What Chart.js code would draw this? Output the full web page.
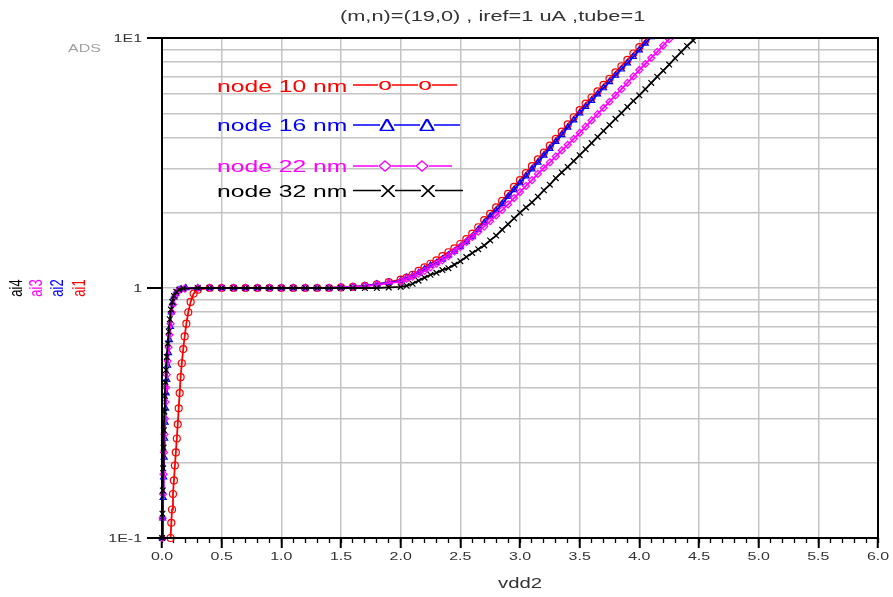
<!DOCTYPE html>
<html>
<head>
<meta charset="utf-8">
<script src="https://cdn.jsdelivr.net/npm/chart.js@4.4.1/dist/chart.umd.min.js"></script>
<style>
  html, body { margin: 0; padding: 0; background: #fff; }
  #wrap { width: 893px; height: 597px; }
</style>
</head>
<body>
<div id="wrap"><canvas id="chart" width="893" height="597"></canvas></div>
<script>
const titleText = "(m,n)=(19,0) , iref=1 uA ,tube=1";
const xTitle = "vdd2";
const yTitles = ["ai4", "ai3", "ai2", "ai1"];
const seriesLabels = ["node 10 nm", "node 16 nm", "node 22 nm", "node 32 nm"];

const xTickValues = [0, 0.5, 1, 1.5, 2, 2.5, 3, 3.5, 4, 4.5, 5, 5.5, 6];
const xTickLabels = ["0.0", "0.5", "1.0", "1.5", "2.0", "2.5", "3.0", "3.5", "4.0", "4.5", "5.0", "5.5", "6.0"];
const yTickValues = [0.1, 1, 10];
const yTickLabels = ["1E-1", "1", "1E1"];
const yGridValues = [0.1, 0.2, 0.3, 0.4, 0.5, 0.6, 0.7, 0.8, 0.9, 1, 2, 3, 4, 5, 6, 7, 8, 9, 10];

// steep start (each curve has its own sweep points)
const xSteepRed = [0.072, 0.078, 0.084, 0.092, 0.1, 0.108, 0.116, 0.124, 0.132, 0.14, 0.148, 0.156, 0.166, 0.178, 0.19, 0.204, 0.22, 0.24, 0.265];
const ySteepRed = [0.1, 0.115, 0.13, 0.15, 0.17, 0.195, 0.22, 0.25, 0.285, 0.33, 0.38, 0.44, 0.5, 0.57, 0.64, 0.72, 0.8, 0.88, 0.95];
const xSteepBlue = [0.002, 0.006, 0.01, 0.014, 0.018, 0.022, 0.026, 0.03, 0.035, 0.04, 0.047, 0.054, 0.062, 0.07, 0.078, 0.088, 0.1, 0.115, 0.135, 0.16, 0.2];
const ySteepBlue = [0.1, 0.12, 0.145, 0.175, 0.21, 0.25, 0.29, 0.33, 0.38, 0.43, 0.49, 0.55, 0.62, 0.7, 0.8, 0.87, 0.92, 0.95, 0.98, 0.99, 1.0];
const xSteepMag = [0.002, 0.005, 0.009, 0.013, 0.017, 0.021, 0.025, 0.029, 0.034, 0.04, 0.047, 0.055, 0.063, 0.072, 0.081, 0.092, 0.105, 0.125, 0.15, 0.19];
const ySteepMag = [0.1, 0.12, 0.15, 0.18, 0.22, 0.26, 0.3, 0.35, 0.4, 0.45, 0.51, 0.58, 0.65, 0.72, 0.8, 0.86, 0.92, 0.96, 0.985, 0.995];
const xSteepBlack = [0.001, 0.004, 0.007, 0.01, 0.013, 0.016, 0.02, 0.024, 0.028, 0.033, 0.04, 0.048, 0.056, 0.065, 0.075, 0.086, 0.1, 0.12, 0.145, 0.18];
const ySteepBlack = [0.1, 0.125, 0.155, 0.19, 0.23, 0.27, 0.32, 0.37, 0.42, 0.47, 0.53, 0.6, 0.67, 0.75, 0.82, 0.88, 0.93, 0.965, 0.985, 0.995];

// plateau
const xFlat = [0.3, 0.4, 0.5, 0.6, 0.7, 0.8, 0.9, 1.0, 1.1, 1.2, 1.3, 1.4, 1.5, 1.6, 1.7, 1.8, 1.9];
const yFlatRed = [0.985, 1, 1, 1, 1, 1, 1, 1, 1, 1, 1, 1, 1.005, 1.01, 1.02, 1.035, 1.055];
const yFlatBlue = [1, 1, 1, 1, 1, 1, 1, 1, 1, 1, 1, 1, 1.005, 1.01, 1.02, 1.035, 1.05];
const yFlatMag = [1, 1, 1, 1, 1, 1, 1, 1, 1, 1, 1, 1, 1.005, 1.01, 1.018, 1.03, 1.045];
const yFlatBlack = [1, 1, 1, 1, 1, 1, 1, 1, 1, 1, 1, 1, 1, 1, 1, 1, 1.005];

// rising part
const xRise = [2.0, 2.05, 2.1, 2.15, 2.2, 2.25, 2.3, 2.35, 2.4, 2.45, 2.5, 2.55, 2.6, 2.65, 2.7, 2.75, 2.8, 2.85, 2.9, 2.95,
  3.0, 3.05, 3.1, 3.15, 3.2, 3.25, 3.3, 3.35, 3.4, 3.45, 3.5, 3.55, 3.6, 3.65, 3.7, 3.75, 3.8, 3.85, 3.9, 3.95,
  4.0, 4.05, 4.1, 4.15, 4.2, 4.25, 4.3, 4.35, 4.4, 4.45, 4.5];
const yRiseRed = [1.08, 1.10, 1.13, 1.17, 1.21, 1.25, 1.29, 1.34, 1.39, 1.44, 1.50, 1.57, 1.65, 1.75, 1.87, 1.98, 2.10, 2.23, 2.38, 2.54,
  2.70, 2.88, 3.07, 3.27, 3.48, 3.71, 3.95, 4.22, 4.51, 4.82, 5.15, 5.46, 5.78, 6.12, 6.49, 6.87, 7.28, 7.71, 8.17, 8.67,
  9.20, 9.77, 10.4];
const yRiseBlue = [1.07, 1.10, 1.12, 1.15, 1.19, 1.23, 1.26, 1.30, 1.35, 1.40, 1.46, 1.53, 1.60, 1.71, 1.82, 1.93, 2.04, 2.17, 2.32, 2.47,
  2.63, 2.80, 2.99, 3.18, 3.39, 3.61, 3.85, 4.10, 4.39, 4.69, 5.01, 5.31, 5.62, 5.96, 6.31, 6.68, 7.08, 7.50, 7.94, 8.43,
  8.95, 9.51, 10.1, 10.7];
const yRiseMag = [1.06, 1.09, 1.11, 1.14, 1.17, 1.21, 1.25, 1.29, 1.34, 1.40, 1.46, 1.53, 1.60, 1.68, 1.76, 1.85, 1.95, 2.05, 2.16, 2.29,
  2.42, 2.56, 2.70, 2.86, 3.02, 3.18, 3.36, 3.55, 3.74, 3.95, 4.17, 4.42, 4.68, 4.96, 5.25, 5.56, 5.89, 6.24, 6.61, 7.02,
  7.45, 7.87, 8.32, 8.81, 9.33, 9.89, 10.5];
const yRiseBlack = [1.01, 1.02, 1.04, 1.07, 1.10, 1.13, 1.15, 1.18, 1.20, 1.24, 1.28, 1.33, 1.38, 1.43, 1.48, 1.55, 1.62, 1.71, 1.80, 1.90,
  2.00, 2.10, 2.20, 2.32, 2.46, 2.59, 2.75, 2.90, 3.05, 3.22, 3.40, 3.59, 3.80, 4.02, 4.25, 4.49, 4.75, 5.01, 5.30, 5.60,
  5.90, 6.24, 6.61, 7.00, 7.40, 7.83, 8.30, 8.79, 9.29, 9.77, 10.35];

const RED = "#ff0000", BLUE = "#0000ff", MAG = "#ff00ff", BLK = "#000000";
const FONT = '"Liberation Sans", Arial, sans-serif';
const STRETCH = 1.45;

function buildSeries(parts) {
  const pts = [];
  parts.forEach(([xs, ys]) => {
    for (let i = 0; i < ys.length; i++) pts.push({ x: xs[i], y: ys[i] });
  });
  return pts;
}

function sText(ctx, text, x, y, size, color, align) {
  ctx.save();
  ctx.translate(x, y);
  ctx.scale(STRETCH, 1);
  ctx.font = size + "px " + FONT;
  ctx.fillStyle = color;
  ctx.textAlign = align || "left";
  ctx.textBaseline = "alphabetic";
  ctx.fillText(text, 0, 0);
  ctx.restore();
}

const minorTicks = Array.from({ length: 61 }, (_, i) => i / 10);

const decorations = {
  id: "decorations",
  afterDraw(chart) {
    const ctx = chart.ctx;
    const a = chart.chartArea;
    const sx = chart.scales.x, sy = chart.scales.y;

    ctx.save();
    ctx.strokeStyle = "#000";
    ctx.lineWidth = 2;
    ctx.strokeRect(a.left, a.top, a.right - a.left, a.bottom - a.top);
    ctx.restore();

    // decade tick marks left of the y axis
    ctx.save();
    ctx.fillStyle = "#000";
    yTickValues.forEach(v => {
      const y = Math.round(sy.getPixelForValue(v));
      ctx.fillRect(147, y - 1, 15, 2);
    });
    ctx.restore();

    sText(ctx, titleText, 340, 21, 15, "#333", "left");
    sText(ctx, "ADS", 68, 52, 11, "#a0a0a0", "left");
    sText(ctx, xTitle, 498, 588, 14, "#333", "left");

    xTickValues.forEach((v, i) => {
      sText(ctx, xTickLabels[i], sx.getPixelForValue(v), 560, 11, "#333", "center");
    });
    yTickValues.forEach((v, i) => {
      sText(ctx, yTickLabels[i], 142, sy.getPixelForValue(v) + 4, 11, "#333", "right");
    });

    // rotated y titles
    const yCols = [BLK, MAG, BLUE, RED];
    const yX = [17, 37, 58, 80];
    yTitles.forEach((t, i) => {
      ctx.save();
      ctx.translate(yX[i], sy.getPixelForValue(1));
      ctx.scale(STRETCH, 1);
      ctx.rotate(-Math.PI / 2);
      ctx.font = "13px " + FONT;
      ctx.fillStyle = yCols[i];
      ctx.textAlign = "center";
      ctx.textBaseline = "middle";
      ctx.fillText(t, 0, 0);
      ctx.restore();
    });

    // legend inside the plot
    const rows = [
      { color: RED, base: 92, ly: 85, x2: 457, marks: [385, 425], glyph: "o", gb: 90 },
      { color: BLUE, base: 131, ly: 125, x2: 460, marks: [387, 427], glyph: "\u0394", gb: 130.5 },
      { color: MAG, base: 171.5, ly: 166, x2: 452, marks: [385, 422], glyph: null, gb: 0 },
      { color: BLK, base: 196.5, ly: 190.5, x2: 463, marks: [388, 428], glyph: "X", gb: 196.5 }
    ];
    rows.forEach((r, i) => {
      sText(ctx, seriesLabels[i], 217, r.base, 17, r.color, "left");
      const gap = 7;
      const segs = [[353, r.marks[0] - gap], [r.marks[0] + gap, r.marks[1] - gap], [r.marks[1] + gap, r.x2]];
      ctx.save();
      ctx.strokeStyle = r.color;
      ctx.lineWidth = 1.5;
      ctx.beginPath();
      segs.forEach(([s, e]) => { ctx.moveTo(s, r.ly); ctx.lineTo(e, r.ly); });
      ctx.stroke();
      ctx.restore();
      r.marks.forEach(m => {
        if (r.glyph) {
          sText(ctx, r.glyph, m, r.gb, 17, r.color, "center");
        } else {
          ctx.save();
          ctx.translate(m, r.ly);
          ctx.scale(STRETCH, 1);
          ctx.strokeStyle = r.color;
          ctx.fillStyle = "#fff";
          ctx.lineWidth = 1.2;
          ctx.beginPath();
          ctx.moveTo(0, -5); ctx.lineTo(4, 0); ctx.lineTo(0, 5); ctx.lineTo(-4, 0); ctx.closePath();
          ctx.fill(); ctx.stroke();
          ctx.restore();
        }
      });
    });
  }
};

function ds(label, color, style, radius, data) {
  return {
    label: label,
    data: data,
    borderColor: color,
    backgroundColor: color,
    borderWidth: 1.8,
    pointStyle: style,
    pointRadius: radius,
    pointBorderColor: color,
    pointBackgroundColor: "rgba(255,255,255,0)",
    pointBorderWidth: 1.2,
    tension: 0,
    clip: { left: 8, top: 0, right: 0, bottom: 5 }
  };
}

const chart = new Chart(document.getElementById("chart"), {
  type: "line",
  data: {
    datasets: [
      ds(seriesLabels[3], BLK, "crossRot", 4, buildSeries([[xSteepBlack, ySteepBlack], [xFlat, yFlatBlack], [xRise, yRiseBlack]])),
      ds(seriesLabels[2], MAG, "rectRot", 3.5, buildSeries([[xSteepMag, ySteepMag], [xFlat, yFlatMag], [xRise, yRiseMag]])),
      ds(seriesLabels[1], BLUE, "triangle", 3.5, buildSeries([[xSteepBlue, ySteepBlue], [xFlat, yFlatBlue], [xRise, yRiseBlue]])),
      ds(seriesLabels[0], RED, "circle", 3.5, buildSeries([[xSteepRed, ySteepRed], [xFlat, yFlatRed], [xRise, yRiseRed]]))
    ]
  },
  options: {
    responsive: false,
    animation: false,
    devicePixelRatio: 1,
    layout: { padding: { left: 0, right: 15, top: 38, bottom: 0 } },
    plugins: { legend: { display: false }, title: { display: false }, tooltip: { enabled: false } },
    scales: {
      x: {
        type: "linear",
        min: 0,
        max: 6,
        weight: 1,
        afterBuildTicks: s => { s.ticks = xTickValues.map(v => ({ value: v })); },
        afterFit: s => { s.height = 59; },
        ticks: { display: false },
        grid: { color: "#c4c4c4", lineWidth: 1.5, tickLength: 10, tickWidth: 2, tickColor: "#000" },
        border: { color: "#000", width: 2 }
      },
      xMinor: {
        type: "linear",
        position: "bottom",
        min: 0,
        max: 6,
        weight: 0,
        afterBuildTicks: s => { s.ticks = minorTicks.map(v => ({ value: v })); },
        afterFit: s => { s.height = 0; },
        ticks: { display: false },
        grid: { drawOnChartArea: false, tickLength: 5, tickWidth: 1.3, tickColor: "#000" },
        border: { display: false }
      },
      y: {
        type: "logarithmic",
        min: 0.1,
        max: 10,
        afterBuildTicks: s => { s.ticks = yGridValues.map(v => ({ value: v })); },
        afterFit: s => { s.width = 162; },
        ticks: { display: false },
        grid: { color: "#c4c4c4", lineWidth: 1.5, drawTicks: false },
        border: { color: "#000", width: 2 }
      }
    }
  },
  plugins: [decorations]
});
</script>
</body>
</html>
